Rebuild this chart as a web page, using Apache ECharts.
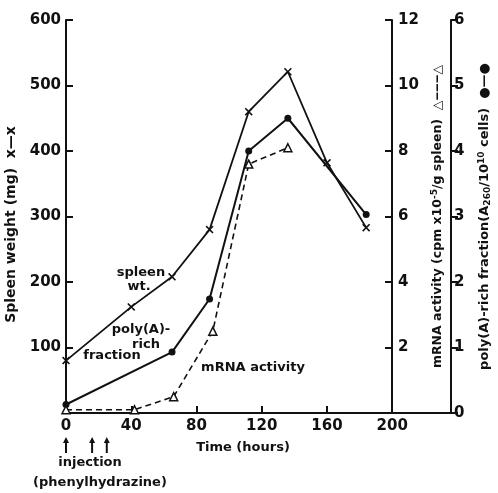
<!DOCTYPE html>
<html><head><meta charset="utf-8">
<script src="https://cdn.jsdelivr.net/npm/echarts@6/dist/echarts.min.js"></script>
<style>html,body{margin:0;padding:0;background:#fff}#c{width:498px;height:493px}</style>
</head><body><div id="c"></div>
<script>
// ---- data ----
const spleenTimes = [0, 40, 65, 88, 112, 136, 160, 184];
const spleenWeight = [80, 162, 208, 280, 460, 521, 382, 283];
const polyTimes = [0, 65, 88, 112, 136, 184];
const polyA = [0.13, 0.93, 1.74, 4.0, 4.5, 3.03];
const mrnaTimes = [0, 42, 66, 90, 112, 136];
const mrna = [0.1, 0.1, 0.5, 2.5, 7.6, 8.1];
const xLabelValues = [0, 40, 80, 120, 160, 200];
const xTickValues = [40, 80, 120, 160];
const injectionTimes = [0, 16, 25];

const FONT = 'DejaVu Sans';
const INK = '#111';
const zip = (a, b) => a.map((v, i) => [v, b[i]]);
const XMARK = 'path://M0,1.4L1.4,0L5,3.6L8.6,0L10,1.4L6.4,5L10,8.6L8.6,10L5,6.4L1.4,10L0,8.6L3.6,5Z';

const chart = echarts.init(document.getElementById('c'), null, {renderer: 'canvas'});
const lbl = {color: INK, fontFamily: FONT, fontWeight: 'bold', fontSize: 15};
const nameStyle = {color: INK, fontFamily: FONT, fontWeight: 'bold', fontSize: 13};

chart.setOption({
  backgroundColor: '#fff',
  animation: false,
  grid: {left: 66, top: 20, right: 47, bottom: 80, containLabel: false, outerBoundsMode: 'none'},
  xAxis: {
    type: 'value', min: 0, max: 236,
    axisLine: {lineStyle: {color: INK, width: 2}},
    axisTick: {inside: true, length: 7, lineStyle: {color: INK, width: 2}, customValues: xTickValues},
    axisLabel: Object.assign({margin: 6, customValues: xLabelValues}, lbl),
    splitLine: {show: false},
    name: 'Time (hours)', nameLocation: 'middle', nameGap: 28,
    nameTextStyle: Object.assign({}, nameStyle, {padding: [0, 31, 0, 0]}),
  },
  yAxis: [
    {
      type: 'value', min: 0, max: 600, interval: 100, position: 'left',
      axisLine: {show: true, lineStyle: {color: INK, width: 2}},
      axisTick: {show: true, inside: true, length: 7, lineStyle: {color: INK, width: 2}},
      axisLabel: Object.assign({margin: 5, formatter: v => v === 0 ? '' : v}, lbl),
      splitLine: {show: false},
      name: 'Spleen weight (mg)  x—x', nameLocation: 'middle', nameGap: 36, nameRotate: 90,
      nameTextStyle: Object.assign({}, nameStyle, {fontSize: 14, padding: [0, 16, 0, 0]}),
    },
    {
      type: 'value', min: 0, max: 12, interval: 2, position: 'right', offset: -59,
      axisLine: {show: true, lineStyle: {color: INK, width: 2}},
      axisTick: {show: true, inside: true, length: 7, lineStyle: {color: INK, width: 2}},
      axisLabel: Object.assign({margin: 6, formatter: v => v === 0 ? '' : v}, lbl),
      splitLine: {show: false},
      name: 'mRNA activity (cpm x10{sup|-5}/g spleen)  △‒‒‒△', nameLocation: 'middle', nameGap: 30, nameRotate: 90,
      nameTextStyle: Object.assign({}, nameStyle, {fontSize: 12.5, rich: {sup: {fontSize: 9, fontFamily: FONT, fontWeight: 'bold', color: INK, verticalAlign: 'top', padding: [0, 0, 6, 0]}}}),
    },
    {
      type: 'value', min: 0, max: 6, interval: 1, position: 'right', offset: 0,
      axisLine: {show: true, lineStyle: {color: INK, width: 2}},
      axisTick: {show: true, inside: false, length: 7, lineStyle: {color: INK, width: 2}},
      axisLabel: Object.assign({margin: 3}, lbl),
      splitLine: {show: false},
      name: 'poly(A)-rich fraction(A{sub|260}/10{sup|10} cells)  ●—●', nameLocation: 'middle', nameGap: 26, nameRotate: 90,
      nameTextStyle: Object.assign({}, nameStyle, {rich: {
        sup: {fontSize: 9, fontFamily: FONT, fontWeight: 'bold', color: INK, verticalAlign: 'top', padding: [0, 0, 6, 0]},
        sub: {fontSize: 9, fontFamily: FONT, fontWeight: 'bold', color: INK, verticalAlign: 'bottom', padding: [6, 0, 0, 0]}
      }}),
    }
  ],
  series: [
    {
      name: 'spleen wt', type: 'line', yAxisIndex: 0, data: zip(spleenTimes, spleenWeight),
      symbol: XMARK, symbolSize: 8, showAllSymbol: true,
      lineStyle: {color: INK, width: 1.8}, itemStyle: {color: INK}, z: 3
    },
    {
      name: 'poly(A)', type: 'line', yAxisIndex: 2, data: zip(polyTimes, polyA),
      symbol: 'circle', symbolSize: 7,
      lineStyle: {color: INK, width: 2}, itemStyle: {color: INK}, z: 3
    },
    {
      name: 'mRNA', type: 'line', yAxisIndex: 1, data: zip(mrnaTimes, mrna),
      symbol: 'triangle', symbolSize: 8,
      lineStyle: {color: INK, width: 1.6, type: [6, 4]},
      itemStyle: {color: '#fff', borderColor: INK, borderWidth: 1.5}, z: 4
    }
  ]
});

// annotations
const txt = (x, y, s, align) => ({
  type: 'text', x: x, y: y, z: 10,
  style: {text: s, fill: INK, font: 'bold 13px "' + FONT + '"', textAlign: align || 'center', textVerticalAlign: 'middle'}
});
const g = [
  txt(141, 273, 'spleen'), txt(139, 287, 'wt.'),
  txt(141, 330, 'poly(A)-'), txt(146, 345, 'rich'),
  txt(112, 356, 'fraction'),
  txt(253, 368, 'mRNA activity'),
  txt(90, 463, 'injection'),
  txt(100, 483, '(phenylhydrazine)')
];
injectionTimes.forEach(t => {
  const px = chart.convertToPixel({xAxisIndex: 0}, t);
  g.push({type: 'line', z: 10, shape: {x1: px, y1: 453, x2: px, y2: 442}, style: {stroke: INK, lineWidth: 2}});
  g.push({type: 'polygon', z: 10, shape: {points: [[px - 3, 443], [px + 3, 443], [px, 437]]}, style: {fill: INK}});
});
chart.setOption({graphic: g});
</script>
</body></html>
